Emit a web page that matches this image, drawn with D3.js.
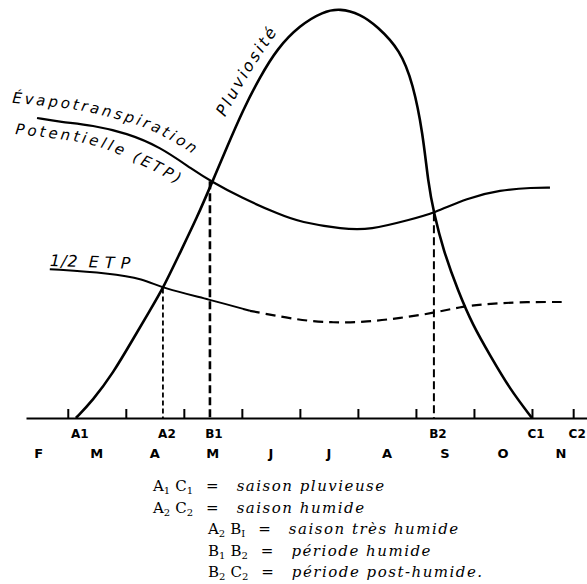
<!DOCTYPE html>
<html>
<head>
<meta charset="utf-8">
<script src="https://cdn.jsdelivr.net/npm/d3@7"></script>
<style>
	body { margin: 0; background: #fff; }
	svg { display: block; }
</style>
</head>
<body>
<svg id="chart" width="587" height="584"></svg>
<script>
// Time is a decimal month index (2 = 1 March ... 10 = 1 November)
var monthLabels = ['F', 'M', 'A', 'M', 'J', 'J', 'A', 'S', 'O', 'N'],
	monthMid = [1.5, 2.5, 3.5, 4.5, 5.5, 6.5, 7.5, 8.5, 9.5, 10.5],
	tickT = [2, 3, 4, 5, 6, 7, 8, 9, 10, 10.71];

// Pluviosité
var rainT = [2.14, 2.43, 2.78, 3.12, 3.42, 3.64, 3.93, 4.23, 4.49, 4.74, 5.02, 5.31, 5.61, 6.00, 6.40, 6.69, 7.04, 7.33, 7.73, 7.95, 8.12, 8.21, 8.31, 8.47, 8.73, 8.98, 9.28, 9.62, 10.00],
	rainV = [0, 11, 28, 49, 67.5, 81, 103, 125.5, 147.5, 169, 192.5, 213, 231, 245.5, 254, 256, 252.5, 245, 230, 209, 178, 147, 128, 105, 79, 58, 39, 18, 0];

// Évapotranspiration potentielle
var etpT = [1.47, 1.87, 2.43, 3.02, 3.59, 4.16, 4.49, 4.97, 5.66, 6.00, 6.74, 7.21, 7.90, 8.31, 8.88, 9.45, 10.02, 10.31],
	etpV = [187.5, 185, 183, 178, 169.5, 155, 147.5, 138, 127, 122.5, 118, 117.5, 124, 128, 137.5, 142.5, 144, 144];

// 1/2 ETP (solid up to halfSolidEnd, dashed after)
var halfT = [1.69, 2.73, 3.30, 3.64, 4.45, 5.14, 6.00, 6.57, 7.16, 7.73, 8.29, 8.76, 9.16, 9.74, 10.52],
	halfV = [93, 90.5, 87, 81, 74, 67, 61, 59.5, 60, 62.5, 65.5, 69.5, 71, 72.5, 72.5],
	halfSolidEnd = 5.14;

// Points on the time axis
var pointNames = ['A1', 'A2', 'B1', 'B2', 'C1', 'C2'],
	pointT = [2.14, 3.64, 4.45, 8.31, 10.00, 10.71];

// Vertical drops (intersections)
var dropNames = ['A2', 'B1', 'B2'],
	dropT = [3.64, 4.45, 8.31],
	dropV = [81, 148, 128];

// Legend
var legendKeys = [['A', '1', 'C', '1'], ['A', '2', 'C', '2'], ['A', '2', 'B', 'I'], ['B', '1', 'B', '2'], ['B', '2', 'C', '2']],
	legendText = ['saison pluvieuse', 'saison humide', 'saison très humide', 'période humide', 'période post-humide.'],
	legendIndent = [0, 0, 1, 1, 1];

// Guides for the hand lettered labels, in the same units
var evapGuide = [[1.04, 197], [2.16, 192.5], [3.12, 184], [3.54, 178], [4.05, 167.5], [4.45, 157]],
	potGuide = [[1.09, 177.5], [2.26, 172], [2.73, 167], [3.19, 159.5], [3.59, 152.5], [4.25, 138.5]],
	pluvGuide = [[4.71, 188], [5.14, 215.6], [5.66, 244]];

var svg = d3.select('#chart'),
	axisY = 418;

var x = d3.scaleLinear().domain([1.28, 11]).range([26, 590]),
	y = d3.scaleLinear().domain([0, 260]).range([axisY, 2]);

function zipPts(ts, vs) {
	return ts.map(function(t, i) { return [t, vs[i]]; });
}

var line = d3.line()
	.x(function(d) { return x(d[0]); })
	.y(function(d) { return y(d[1]); })
	.curve(d3.curveBasis);

var guideLine = d3.line()
	.x(function(d) { return x(d[0]); })
	.y(function(d) { return y(d[1]); })
	.curve(d3.curveCatmullRom.alpha(0.5));

// Axis: ticks point up
var axis = d3.axisTop(x)
	.tickValues(tickT)
	.tickSize(9)
	.tickSizeOuter(0)
	.tickFormat('');

var gAxis = svg.append('g')
	.attr('transform', 'translate(0,' + axisY + ')')
	.call(axis);
gAxis.select('.domain').attr('stroke', '#000').attr('stroke-width', 2);
gAxis.selectAll('.tick line').attr('stroke', '#000').attr('stroke-width', 2);

// Vertical dashed drops
var dropStyle = { A2: [1.8, '5,3'], B1: [2.6, '8,4'], B2: [2, '8,4'] };
svg.append('g').selectAll('line')
	.data(dropNames)
	.enter().append('line')
	.attr('x1', function(d, i) { return x(dropT[i]); })
	.attr('x2', function(d, i) { return x(dropT[i]); })
	.attr('y1', function(d, i) { return y(dropV[i]); })
	.attr('y2', y(0))
	.attr('stroke', '#000')
	.attr('stroke-width', function(d) { return dropStyle[d][0]; })
	.attr('stroke-dasharray', function(d) { return dropStyle[d][1]; });

// Curves
var halfPts = zipPts(halfT, halfV);
svg.append('path')
	.datum(zipPts(etpT, etpV))
	.attr('d', line)
	.attr('fill', 'none').attr('stroke', '#000').attr('stroke-width', 2.2);

svg.append('path')
	.datum(halfPts.filter(function(d) { return d[0] <= halfSolidEnd; }))
	.attr('d', line)
	.attr('fill', 'none').attr('stroke', '#000').attr('stroke-width', 2);

svg.append('path')
	.datum(halfPts.filter(function(d) { return d[0] >= halfSolidEnd; }))
	.attr('d', line)
	.attr('fill', 'none').attr('stroke', '#000').attr('stroke-width', 2.2)
	.attr('stroke-dasharray', '10,6');

svg.append('path')
	.datum(zipPts(rainT, rainV))
	.attr('d', line)
	.attr('fill', 'none').attr('stroke', '#000').attr('stroke-width', 2.6);

// Axis labels
svg.append('g').selectAll('text')
	.data(pointNames)
	.enter().append('text')
	.attr('x', function(d, i) { return x(pointT[i]) + 4; })
	.attr('y', axisY + 20)
	.attr('text-anchor', 'middle')
	.style('font', 'bold 12px "DejaVu Sans", sans-serif')
	.text(function(d) { return d; });

svg.append('g').selectAll('text')
	.data(monthLabels)
	.enter().append('text')
	.attr('x', function(d, i) { return x(monthMid[i]); })
	.attr('y', axisY + 40)
	.attr('text-anchor', 'middle')
	.style('font', 'bold 13px "DejaVu Sans", sans-serif')
	.text(function(d) { return d; });

// Hand lettered labels along guides
var defs = svg.append('defs');
function guideLabel(id, guide, txt, size, spacing) {
	defs.append('path').attr('id', id).attr('d', guideLine(guide));
	svg.append('text')
		.style('font', 'italic ' + size + 'px "DejaVu Sans", sans-serif')
		.style('letter-spacing', spacing + 'px')
		.append('textPath')
		.attr('href', '#' + id)
		.text(txt);
}
guideLabel('g-evap', evapGuide, 'Évapotranspiration', 15, 2.8);
guideLabel('g-pot', potGuide, 'Potentielle (ETP)', 15, 3);
guideLabel('g-pluv', pluvGuide, 'Pluviosité', 16, 2.5);

var half = svg.append('text')
	.attr('transform', 'translate(' + x(1.69) + ',' + y(95) + ') rotate(2)')
	.style('font', 'italic 16px "DejaVu Sans", sans-serif');
half.append('tspan').style('letter-spacing', '1px').text('1/2');
half.append('tspan').attr('dx', 10).style('letter-spacing', '6px').text('ETP');

// Legend
var legend = svg.append('g')
	.style('font-family', '"DejaVu Serif", serif')
	.style('font-size', '15px');

legendKeys.forEach(function(k, i) {
	var x0 = legendIndent[i] ? 208 : 153,
		t = legend.append('text')
			.attr('x', x0)
			.attr('y', 491 + i * 21.5);
	t.append('tspan').text(k[0]);
	t.append('tspan').attr('dy', 3).style('font-size', '10px').text(k[1]);
	t.append('tspan').attr('dy', -3).attr('dx', 5).text(k[2]);
	t.append('tspan').attr('dy', 3).style('font-size', '10px').text(k[3]);
	t.append('tspan').attr('dy', -3).attr('dx', 13).text('=');
	t.append('tspan').attr('dx', 18).style('font-style', 'italic')
		.style('letter-spacing', '1.5px').text(legendText[i]);
});
</script>
</body>
</html>
